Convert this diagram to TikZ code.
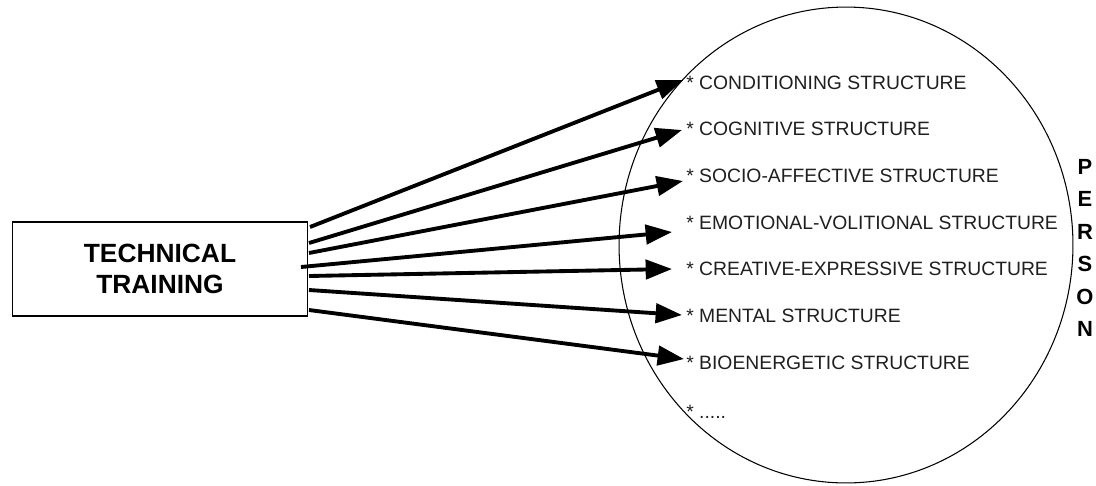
\documentclass[tikz,border=0pt]{standalone}
\usepackage{fontspec}
\setmainfont{Liberation Sans}
\usetikzlibrary{arrows.meta,shapes.geometric}
\begin{document}
\begin{tikzpicture}[x=0.02cm,y=-0.02cm,
  arr/.style={line width=2.2pt,-{Triangle[length=15pt,width=11pt]}},
  item/.style={anchor=base west,inner sep=0pt,font=\fontsize{11pt}{13pt}\selectfont,text=black!88},
  boxnode/.style={draw,line width=0.6pt,minimum width=5.9cm,minimum height=1.88cm,inner sep=0pt,align=center,font=\fontsize{15pt}{18pt}\selectfont\bfseries},
  oval/.style={draw,ellipse,line width=0.6pt,minimum width=9.08cm,minimum height=9.52cm,inner sep=0pt}]
\useasboundingbox (0,0) rectangle (1096,485);
\node[oval] (person) at (846,245) {};
\node[boxnode] (tt) at (160,269) {TECHNICAL\\TRAINING};
\node[item] (i1) at (686,89) {* CONDITIONING STRUCTURE};
\node[item] (i2) at (686,135) {* COGNITIVE STRUCTURE};
\node[item] (i3) at (686,182) {* SOCIO-AFFECTIVE STRUCTURE};
\node[item] (i4) at (686,229) {* EMOTIONAL-VOLITIONAL STRUCTURE};
\node[item] (i5) at (686,275) {* CREATIVE-EXPRESSIVE STRUCTURE};
\node[item] (i6) at (686,322) {* MENTAL STRUCTURE};
\node[item] (i7) at (686,369) {* BIOENERGETIC STRUCTURE};
\node[item] (i8) at (686,418) {* .....};
\node[align=center,inner sep=0pt,font=\fontsize{12.5pt}{18.5pt}\selectfont\bfseries] (pl) at (1085,248) {P\\E\\R\\S\\O\\N};
\draw[arr] ([shift={(2,-42)}]tt.east) -- ([shift={(-3,-9)}]i1.base west);
\draw[arr] ([shift={(1,-26)}]tt.east) -- ([shift={(-4,-5)}]i2.base west);
\draw[arr] ([shift={(1,-16)}]tt.east) -- ([shift={(-3,-1)}]i3.base west);
\draw[arr] ([shift={(-7,-2)}]tt.east) -- ([shift={(-14,3)}]i4.base west);
\draw[arr] ([shift={(1,7)}]tt.east) -- ([shift={(-14,-6)}]i5.base west);
\draw[arr] ([shift={(1,21)}]tt.east) -- ([shift={(-4,-7)}]i6.base west);
\draw[arr] ([shift={(1,41)}]tt.east) -- ([shift={(-2,-10)}]i7.base west);
\end{tikzpicture}
\end{document}
